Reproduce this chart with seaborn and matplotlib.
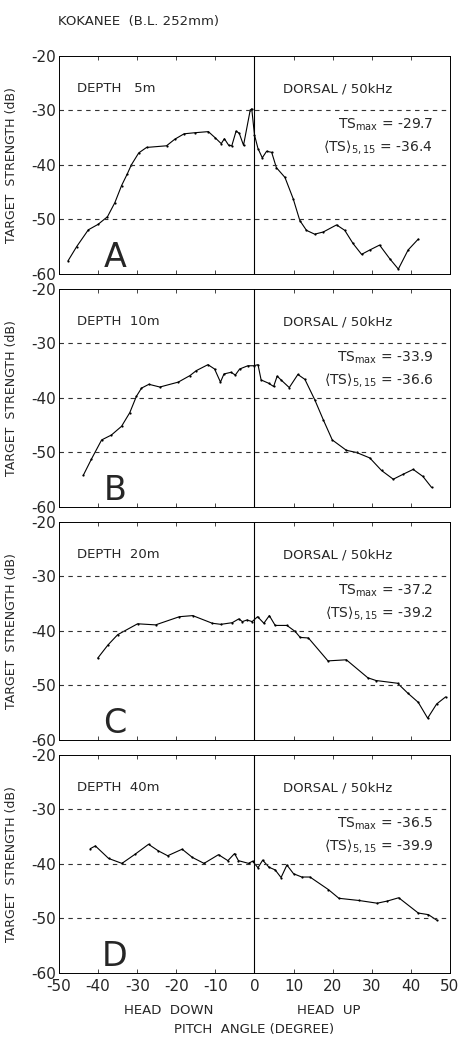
import numpy as np
import pandas as pd
import matplotlib
matplotlib.use("Agg")
import matplotlib.pyplot as plt
import seaborn as sns

# Pitch angle (deg) / target strength (dB)
x_a = [-47.7, -45.5, -42.5, -40.0, -37.6, -35.7, -34.0, -32.5, -31.5, -29.6, -27.6, -22.5, -20.4,
       -18.0, -15.2, -11.8, -10.1, -8.5, -7.7, -6.6, -5.8, -4.7, -3.9, -2.8, -1.1, -0.7, 0.0, 0.9,
       2.0, 3.1, 4.4, 5.6, 7.8, 9.9, 11.6, 13.3, 15.4, 17.6, 21.0, 23.1, 25.2, 27.4, 29.5, 32.0,
       34.6, 36.8, 39.3, 41.9]
ts_a = [-57.6, -55.0, -51.9, -50.9, -49.5, -46.9, -43.8, -41.6, -40.0, -37.8, -36.8, -36.5, -35.3,
        -34.3, -34.1, -33.9, -35.0, -36.1, -35.2, -36.4, -36.5, -33.8, -34.2, -36.4, -30.0, -29.7, -34.5, -37.0,
        -38.7, -37.5, -37.7, -40.5, -42.3, -46.2, -50.2, -52.0, -52.7, -52.3, -51.0, -52.0, -54.4, -56.4,
        -55.6, -54.7, -57.2, -59.1, -55.6, -53.6]

x_b = [-43.8, -41.7, -39.1, -36.6, -34.0, -31.9, -30.2, -28.9, -27.0, -24.2, -19.5, -16.5, -14.9,
       -11.9, -10.2, -8.7, -7.8, -6.0, -4.9, -3.8, -1.7, -0.2, 0.9, 1.7, 3.6, 4.9, 5.8, 6.8, 8.9,
       11.1, 12.9, 15.4, 17.6, 19.9, 23.5, 26.1, 29.5, 32.5, 35.5, 38.0, 40.6, 43.1, 45.3]
ts_b = [-54.2, -51.2, -47.7, -46.8, -45.2, -42.7, -39.7, -38.2, -37.5, -38.0, -37.1, -35.9, -35.0,
        -33.9, -34.7, -37.1, -35.6, -35.3, -35.8, -34.7, -34.1, -34.1, -33.9, -36.7, -37.3, -37.9, -36.0,
        -36.7, -38.1, -35.7, -36.6, -40.3, -44.0, -47.7, -49.6, -50.0, -51.0, -53.3, -54.9, -54.0, -53.1,
        -54.4, -56.4]

x_c = [-40.1, -37.5, -35.0, -29.9, -25.3, -19.2, -15.8, -10.8, -8.6, -5.7, -4.0, -3.1, -1.9, -0.6,
       0.8, 2.4, 3.8, 5.3, 8.3, 10.4, 11.7, 13.8, 18.8, 23.5, 29.0, 31.1, 36.6, 39.2, 41.9, 44.3,
       46.6, 48.9]
ts_c = [-45.0, -42.6, -40.7, -38.7, -38.9, -37.4, -37.2, -38.6, -38.8, -38.5, -37.8, -38.3, -38.0, -38.3,
        -37.4, -38.6, -37.2, -39.0, -39.0, -40.1, -41.2, -41.3, -45.5, -45.3, -48.6, -49.1, -49.6, -51.4,
        -53.1, -56.0, -53.4, -52.1]

x_d = [-42.0, -40.7, -37.3, -33.9, -30.5, -27.1, -24.6, -22.2, -18.5, -15.9, -12.9, -9.2, -6.8, -5.1,
       -4.1, -1.5, -0.5, 0.9, 2.1, 3.7, 5.3, 6.8, 8.3, 10.0, 12.1, 14.2, 18.9, 21.6, 26.7, 31.4,
       34.0, 36.9, 41.9, 44.5, 46.6]
ts_d = [-37.2, -36.7, -39.0, -39.9, -38.2, -36.4, -37.6, -38.5, -37.3, -38.8, -39.9, -38.3, -39.4, -38.1,
        -39.4, -39.9, -39.5, -40.7, -39.3, -40.6, -41.1, -42.5, -40.2, -41.8, -42.4, -42.4, -44.7, -46.3,
        -46.7, -47.2, -46.8, -46.2, -49.0, -49.3, -50.3]

panel_letters = ["A", "B", "C", "D"]
depths = ["DEPTH   5m", "DEPTH  10m", "DEPTH  20m", "DEPTH  40m"]
ts_max = ["-29.7", "-33.9", "-37.2", "-36.5"]
ts_mean = ["-36.4", "-36.6", "-39.2", "-39.9"]
xs = [x_a, x_b, x_c, x_d]
ys = [ts_a, ts_b, ts_c, ts_d]

sns.set_style("white")
plt.rcParams['font.family'] = ['DejaVu Sans']
plt.rcParams['axes.unicode_minus'] = False
plt.rcParams['mathtext.fontset'] = 'dejavusans'

fig = plt.figure(figsize=(4.61, 10.39), dpi=100)
fig.text(0.126, 0.979, "KOKANEE  (B.L. 252mm)", fontsize=9.5, va="center", ha="left")

bottoms = [0.7363, 0.512, 0.2878, 0.0635]
for i in range(4):
    ax = fig.add_axes([0.128, bottoms[i], 0.848, 0.21])
    df = pd.DataFrame({"angle": xs[i], "ts": ys[i]})
    sns.lineplot(data=df, x="angle", y="ts", ax=ax, color="black", lw=0.8,
                 estimator=None, sort=False, marker="o", markersize=1.6, markeredgewidth=0)

    for yy in [-30, -40, -50]:
        ax.axhline(yy, color="#333333", lw=0.8, ls=(0, (4, 4)))
    ax.axvline(0, color="black", lw=0.8)

    ax.set_xlim(-50, 50)
    ax.set_ylim(-60, -20)
    ax.set_xticks(np.arange(-50, 51, 10))
    ax.set_yticks([-60, -50, -40, -30, -20])
    ax.tick_params(direction="in", length=3, width=0.6, top=True, bottom=True, left=True,
                   labelsize=11, pad=2)
    for sp in ax.spines.values():
        sp.set_linewidth(0.7)
        sp.set_color("black")

    ax.set_ylabel("TARGET  STRENGTH (dB)", fontsize=9)
    ax.yaxis.set_label_coords(-0.105, 0.5)

    if i < 3:
        ax.set_xticklabels([])
        ax.set_xlabel("")
    else:
        ax.set_xlabel("PITCH  ANGLE (DEGREE)", fontsize=9.5, labelpad=21)
        ax.tick_params(axis="x", labelsize=11, pad=4)
        ax.text(-22, -66.9, "HEAD  DOWN", fontsize=9.5, ha="center", va="center")
        ax.text(19, -66.9, "HEAD  UP", fontsize=9.5, ha="center", va="center")

    ax.text(0.046, 0.85, depths[i], transform=ax.transAxes, fontsize=9.5, va="center")
    ax.text(0.573, 0.85, "DORSAL / 50kHz", transform=ax.transAxes, fontsize=9.5, va="center")
    ax.text(0.957, 0.683, "TS$_{\\mathrm{max}}$ = " + ts_max[i], transform=ax.transAxes,
            fontsize=10, ha="right", va="center")
    ax.text(0.957, 0.582, "$\\langle$TS$\\rangle_{5,15}$ = " + ts_mean[i], transform=ax.transAxes,
            fontsize=10, ha="right", va="center")
    ax.text(0.143, 0.075, panel_letters[i], transform=ax.transAxes, fontsize=24,
            ha="center", va="center")

fig.savefig("out.png", dpi=100)
